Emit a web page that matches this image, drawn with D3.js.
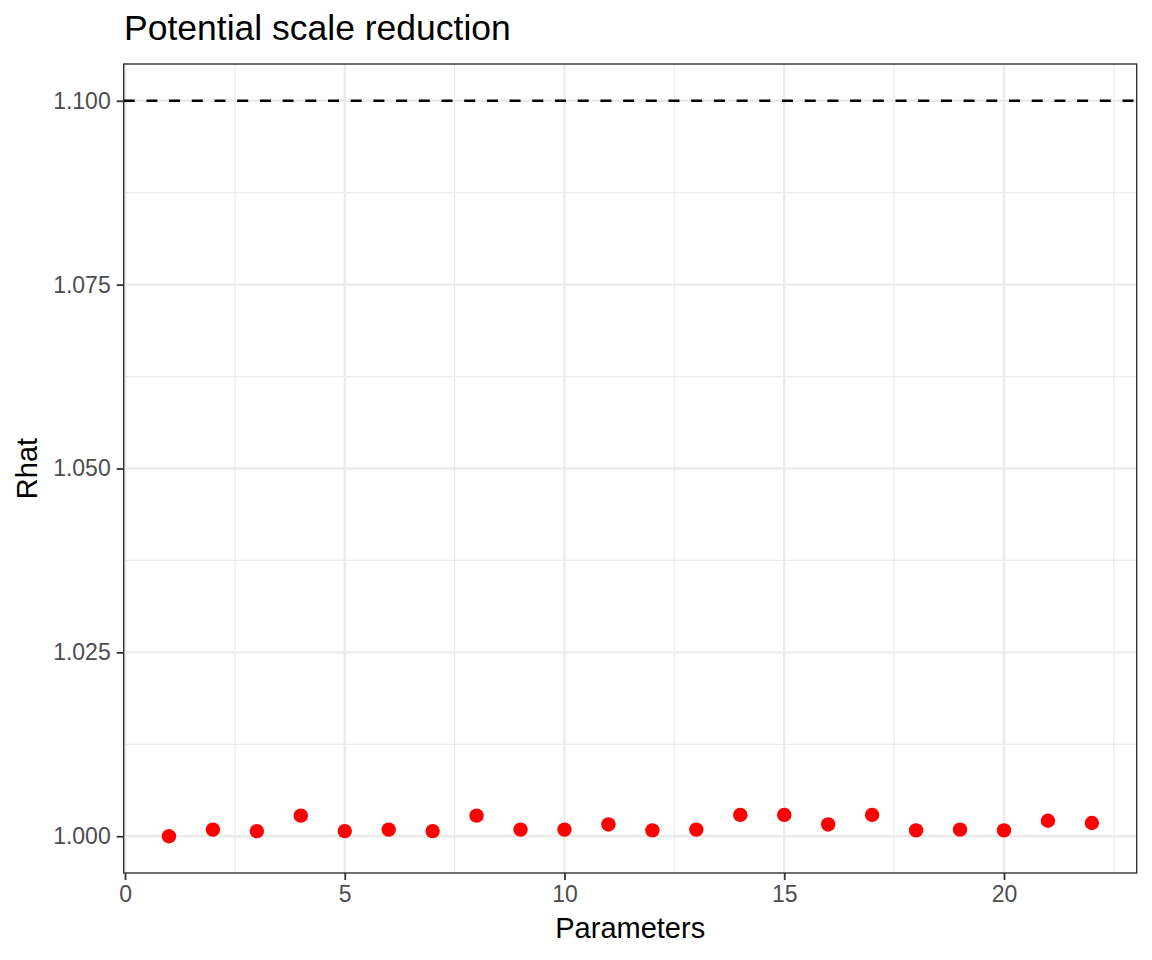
<!DOCTYPE html>
<html>
<head>
<meta charset="utf-8">
<script src="https://cdn.jsdelivr.net/npm/d3@7"></script>
<style>
  html, body { margin: 0; padding: 0; background: #fff; }
  text { font-family: "Liberation Sans", Arial, sans-serif; }
</style>
</head>
<body>
<div id="chart"></div>
<script>
// data
const params = [1, 2, 3, 4, 5, 6, 7, 8, 9, 10, 11, 12, 13, 14, 15, 16, 17, 18, 19, 20, 21, 22];
const rhat = [1.0000, 1.0009, 1.0007, 1.0028, 1.0007, 1.0009, 1.0007, 1.0028, 1.0009, 1.0009, 1.0016,
              1.0008, 1.0009, 1.0029, 1.0029, 1.0016, 1.0029, 1.0008, 1.0009, 1.0008, 1.0021, 1.0018];
const xTicks = [0, 5, 10, 15, 20];
const xMinor = [2.5, 7.5, 12.5, 17.5, 22.5];
const yTicks = [1.000, 1.025, 1.050, 1.075, 1.100];
const yMinor = [1.0125, 1.0375, 1.0625, 1.0875];
const threshold = 1.1;

const width = 1152, height = 960;
const margin = { top: 64, right: 15.3, bottom: 87, left: 123.7 };
const innerW = width - margin.left - margin.right;
const innerH = height - margin.top - margin.bottom;

const svg = d3.select("#chart").append("svg")
    .attr("width", width)
    .attr("height", height);

const x = d3.scaleLinear().domain([-0.03, 23.02]).range([0, innerW]);
const y = d3.scaleLinear().domain([0.995, 1.105]).range([innerH, 0]);

const g = svg.append("g").attr("transform", `translate(${margin.left},${margin.top})`);

// 网格
g.selectAll("line.xminor").data(xMinor).enter().append("line")
    .attr("x1", d => x(d)).attr("x2", d => x(d))
    .attr("y1", 0).attr("y2", innerH)
    .attr("stroke", "#ebebeb").attr("stroke-width", 1.2);
g.selectAll("line.yminor").data(yMinor).enter().append("line")
    .attr("y1", d => y(d)).attr("y2", d => y(d))
    .attr("x1", 0).attr("x2", innerW)
    .attr("stroke", "#ebebeb").attr("stroke-width", 1.2);
g.selectAll("line.xmajor").data(xTicks).enter().append("line")
    .attr("x1", d => x(d)).attr("x2", d => x(d))
    .attr("y1", 0).attr("y2", innerH)
    .attr("stroke", "#ebebeb").attr("stroke-width", 2.4);
g.selectAll("line.ymajor").data(yTicks).enter().append("line")
    .attr("y1", d => y(d)).attr("y2", d => y(d))
    .attr("x1", 0).attr("x2", innerW)
    .attr("stroke", "#ebebeb").attr("stroke-width", 2.4);

// threshold line
g.append("line")
    .attr("x1", 0).attr("x2", innerW)
    .attr("y1", y(threshold)).attr("y2", y(threshold))
    .attr("stroke", "#000").attr("stroke-width", 2.6)
    .attr("stroke-dasharray", "11,11.7");

// points
g.selectAll("circle").data(params).enter().append("circle")
    .attr("cx", d => x(d))
    .attr("cy", (d, i) => y(rhat[i]))
    .attr("r", 7.2)
    .attr("fill", "#ff0000");

// panel border
g.append("rect")
    .attr("width", innerW).attr("height", innerH)
    .attr("fill", "none").attr("stroke", "#333").attr("stroke-width", 1.4);

// axes
const xAxis = g.append("g").attr("transform", `translate(0,${innerH})`)
    .call(d3.axisBottom(x).tickValues(xTicks).tickFormat(d3.format("d")).tickSize(7).tickPadding(6));
const yAxis = g.append("g")
    .call(d3.axisLeft(y).tickValues(yTicks).tickFormat(d3.format(".3f")).tickSize(7).tickPadding(6));

[xAxis, yAxis].forEach(a => {
    a.select(".domain").remove();
    a.selectAll("line").attr("stroke", "#333").attr("stroke-width", 1.8);
    a.selectAll("text").attr("fill", "#4d4d4d").attr("font-size", 23)
        .attr("font-family", "Liberation Sans, Arial, sans-serif");
});

// titles
svg.append("text")
    .attr("x", 124).attr("y", 39.5)
    .attr("font-size", 35.5).attr("fill", "#000")
    .text("Potential scale reduction");

svg.append("text")
    .attr("x", margin.left + innerW / 2).attr("y", 938)
    .attr("text-anchor", "middle")
    .attr("font-size", 29).attr("fill", "#000")
    .text("Parameters");

svg.append("text")
    .attr("transform", `translate(36.5,${margin.top + innerH / 2}) rotate(-90)`)
    .attr("text-anchor", "middle")
    .attr("font-size", 29).attr("fill", "#000")
    .text("Rhat");
</script>
</body>
</html>
